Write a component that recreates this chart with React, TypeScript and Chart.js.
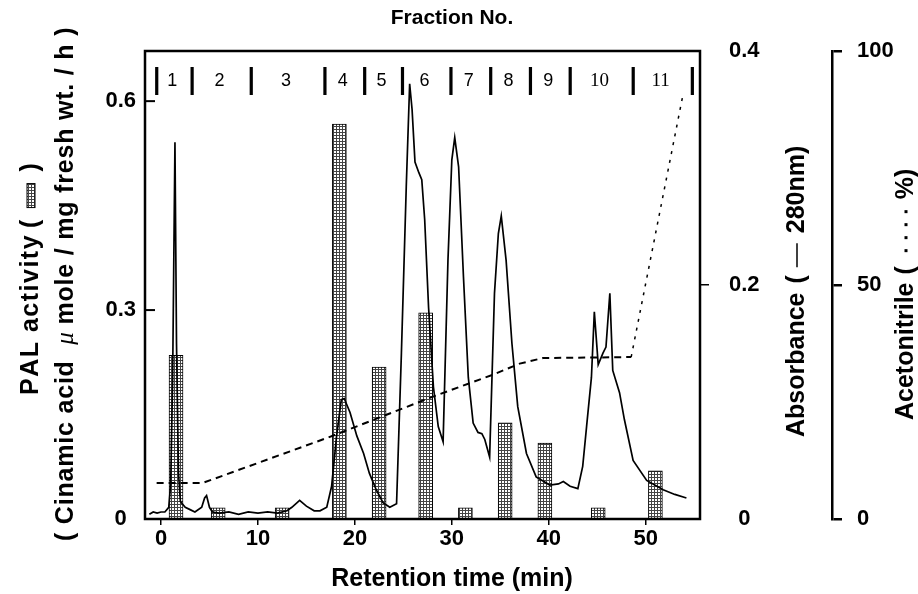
import React, { useEffect, useRef } from "react";
import { Chart, registerables } from "chart.js";

Chart.register(...registerables);

// ---------- data ----------
const timeTicks = [0, 10, 20, 30, 40, 50];
const palTicks = [0, 0.3, 0.6];
const absTicks = [0, 0.2, 0.4];
const acnTicks = [0, 50, 100];

const fractionLabels = ["1", "2", "3", "4", "5", "6", "7", "8", "9", "10", "11"];
const fractionBounds = [-0.45, 3.2, 9.3, 16.9, 21.0, 24.9, 29.9, 34.0, 38.1, 42.2, 48.7, 54.8];

// PAL activity bars (retention time, activity)
const palTimes = [1.55, 5.9, 12.5, 18.4, 22.5, 27.3, 31.4, 35.5, 39.6, 45.1, 51.0];
const palValues = [0.235, 0.016, 0.016, 0.567, 0.218, 0.296, 0.016, 0.138, 0.109, 0.016, 0.069];

// Absorbance at 280 nm (solid trace)
const absTimes = [
  -1.2, -0.8, -0.4, 0.0, 0.4, 0.8, 1.0, 1.2, 1.44, 1.6, 1.8, 2.0, 2.5, 3.0, 3.5, 4.2, 4.5, 4.7, 5.0, 5.3,
  6.0, 7.0, 8.0, 9.0, 10.0, 11.0, 12.0, 13.0, 13.5, 14.3, 15.0, 15.8, 16.4, 17.1, 17.6, 18.1, 18.6, 18.9,
  19.5, 20.2, 20.9, 21.5, 22.2, 22.9, 23.6, 24.3, 24.8, 25.3, 25.65, 25.9, 26.2, 26.6, 26.9, 27.2, 27.6,
  28.1, 28.6, 29.1, 29.6, 30.0, 30.3, 30.7, 31.2, 31.7, 32.2, 32.7, 33.1, 33.4, 33.9, 34.4, 34.8, 35.1,
  35.6, 36.2, 36.8, 37.7, 38.7, 40.1, 41.0, 41.5, 42.2, 43.0, 43.5, 43.9, 44.4, 44.7, 45.1, 45.6, 45.9,
  46.3, 46.6, 47.3, 47.8, 48.7, 50.1, 51.8, 53.0, 54.2,
];
const absValues = [
  0.004, 0.006, 0.005, 0.006, 0.006, 0.01, 0.03, 0.12, 0.322, 0.15, 0.04, 0.015, 0.01, 0.008, 0.006, 0.01, 0.018, 0.02, 0.01, 0.006,
  0.005, 0.006, 0.004, 0.006, 0.005, 0.006, 0.005, 0.007, 0.01, 0.016, 0.011, 0.007, 0.007, 0.01, 0.028, 0.07, 0.102, 0.103,
  0.091, 0.071, 0.056, 0.039, 0.025, 0.014, 0.01, 0.013, 0.142, 0.284, 0.372, 0.35, 0.305, 0.296, 0.29, 0.256, 0.181,
  0.113, 0.079, 0.066, 0.221, 0.307, 0.326, 0.301, 0.207, 0.121, 0.082, 0.074, 0.073, 0.068, 0.053, 0.193, 0.244, 0.259,
  0.221, 0.15, 0.096, 0.056, 0.036, 0.029, 0.03, 0.032, 0.028, 0.026, 0.045, 0.079, 0.121, 0.177, 0.132, 0.142, 0.147,
  0.193, 0.127, 0.108, 0.085, 0.05, 0.033, 0.025, 0.021, 0.018,
];

// Acetonitrile gradient (dashed)
const acnTimes = [-0.45, 4.3, 17.1, 28.0, 34.2, 37.0, 39.4, 48.5, 53.8];
const acnValues = [7.7, 7.7, 17.3, 26.1, 30.8, 33.2, 34.4, 34.6, 90.2];

// ---------- styling ----------
const SANS = "'Liberation Sans', Arial, Helvetica, sans-serif";
const SERIF = "'Liberation Serif', 'Times New Roman', serif";

function makePattern(): CanvasPattern | string {
  const c = document.createElement("canvas");
  c.width = 3;
  c.height = 3;
  const g = c.getContext("2d");
  if (!g) return "#888";
  g.fillStyle = "#fff";
  g.fillRect(0, 0, 3, 3);
  g.fillStyle = "#444";
  g.fillRect(0, 0, 3, 1);
  g.fillRect(0, 0, 1, 3);
  return g.createPattern(c, "repeat") || "#888";
}

type Part = {
  text?: string;
  font?: string;
  spacing?: number;
  gap?: number;
  box?: number;
  line?: number;
  dots?: number;
  span?: number;
};

// Draws text rotated by -90deg, reading bottom-to-top, beginning at (cx, startY).
function rotatedParts(ctx: CanvasRenderingContext2D, cx: number, startY: number, parts: Part[], pattern: any) {
  ctx.save();
  ctx.translate(cx, startY);
  ctx.rotate(-Math.PI / 2);
  ctx.textBaseline = "middle";
  ctx.textAlign = "left";
  ctx.fillStyle = "#000";
  ctx.strokeStyle = "#000";
  let x = 0;
  parts.forEach((p) => {
    if (p.text !== undefined) {
      ctx.font = p.font || `bold 25px ${SANS}`;
      const sp = p.spacing || 0;
      if (!sp) {
        ctx.fillText(p.text, x, 0);
        x += ctx.measureText(p.text).width;
      } else {
        for (const ch of p.text) {
          ctx.fillText(ch, x, 0);
          x += ctx.measureText(ch).width + sp;
        }
      }
    } else if (p.gap) {
      x += p.gap;
    } else if (p.box) {
      ctx.fillStyle = pattern;
      ctx.fillRect(x, -4, p.box, 8);
      ctx.lineWidth = 1;
      ctx.strokeRect(x, -4, p.box, 8);
      ctx.fillStyle = "#000";
      x += p.box;
    } else if (p.line) {
      ctx.lineWidth = 1.5;
      ctx.beginPath();
      ctx.moveTo(x, 0);
      ctx.lineTo(x + p.line, 0);
      ctx.stroke();
      x += p.line;
    } else if (p.dots) {
      const span = p.span || 40;
      const step = span / p.dots;
      for (let i = 0; i < p.dots; i++) {
        ctx.fillRect(x + i * step + step / 2 - 1.5, -1.5, 3, 3);
      }
      x += span;
    }
  });
  ctx.restore();
}

export default function App() {
  const ref = useRef<HTMLCanvasElement | null>(null);

  useEffect(() => {
    const canvas = ref.current;
    if (!canvas) return;
    const pattern = makePattern();

    const decor = {
      id: "decor",
      afterDatasetsDraw(chart: any) {
        const { ctx, chartArea: a, scales } = chart;
        ctx.save();
        ctx.strokeStyle = "#000";
        ctx.lineWidth = 2.5;
        ctx.strokeRect(a.left, a.top, a.right - a.left, a.bottom - a.top);
        // inward ticks on PAL axis
        ctx.lineWidth = 2;
        palTicks.forEach((v) => {
          if (v === 0) return;
          const y = scales.yPal.getPixelForValue(v);
          ctx.beginPath();
          ctx.moveTo(a.left, y);
          ctx.lineTo(a.left + 10, y);
          ctx.stroke();
        });
        // fraction markers
        const xs = scales.x;
        ctx.fillStyle = "#000";
        fractionBounds.forEach((b) => {
          const x = xs.getPixelForValue(b);
          ctx.fillRect(x - 1.5, a.top + 16, 3.2, 28);
        });
        ctx.textAlign = "center";
        ctx.textBaseline = "middle";
        fractionLabels.forEach((lab, i) => {
          const x =
            (xs.getPixelForValue(fractionBounds[i]) + xs.getPixelForValue(fractionBounds[i + 1])) / 2 - 2;
          ctx.font = i >= 9 ? `19px ${SERIF}` : `18px ${SANS}`;
          ctx.fillText(lab, x, a.top + 30);
        });
        ctx.restore();
      },
      afterDraw(chart: any) {
        const { ctx } = chart;
        ctx.save();
        ctx.fillStyle = "#000";
        ctx.textAlign = "center";
        ctx.textBaseline = "middle";
        ctx.font = `bold 21px ${SANS}`;
        ctx.fillText("Fraction No.", 452, 18);
        ctx.font = `bold 25px ${SANS}`;
        ctx.fillText("Retention time (min)", 452, 579);
        ctx.restore();

        rotatedParts(
          ctx,
          31,
          395,
          [
            { text: "PAL activity", spacing: 1.5 },
            { gap: 6 },
            { text: "(" },
            { gap: 12 },
            { box: 24 },
            { gap: 12 },
            { text: ")" },
          ],
          pattern
        );
        rotatedParts(
          ctx,
          66,
          541,
          [
            { text: "( Cinamic acid  ", spacing: 0.8 },
            { text: "\u03bc", font: `italic 25px ${SERIF}` },
            { text: " mole / mg fresh wt. / h )", spacing: 0.8 },
          ],
          pattern
        );
        rotatedParts(
          ctx,
          797,
          437,
          [
            { text: "Absorbance" },
            { gap: 9 },
            { text: "(" },
            { gap: 8 },
            { line: 24 },
            { gap: 10 },
            { text: "280nm)" },
          ],
          pattern
        );
        rotatedParts(
          ctx,
          906,
          420,
          [
            { text: "Acetonitrile" },
            { gap: 8 },
            { text: "(" },
            { gap: 9 },
            { dots: 4, span: 52 },
            { gap: 6 },
            { text: "%)" },
          ],
          pattern
        );
      },
    };

    const chart = new Chart(canvas, {
      type: "line",
      data: {
        datasets: [
          {
            type: "line",
            label: "Absorbance",
            data: absTimes.map((t, i) => ({ x: t, y: absValues[i] })),
            yAxisID: "yAbs",
            borderColor: "#000",
            borderWidth: 1.7,
            pointRadius: 0,
            tension: 0,
            order: 1,
          },
          {
            type: "line",
            label: "Acetonitrile",
            data: acnTimes.map((t, i) => ({ x: t, y: acnValues[i] })),
            yAxisID: "yAcn",
            borderColor: "#000",
            borderWidth: 2,
            borderDash: [7, 5],
            pointRadius: 0,
            tension: 0,
            order: 2,
            segment: {
              borderDash: (c: any) => (c.p1DataIndex === acnValues.length - 1 ? [3, 6] : undefined),
              borderWidth: (c: any) => (c.p1DataIndex === acnValues.length - 1 ? 1.5 : undefined),
            },
          } as any,
          {
            type: "bar",
            label: "PAL activity",
            data: palTimes.map((t, i) => ({ x: t, y: palValues[i] })),
            yAxisID: "yPal",
            backgroundColor: pattern as any,
            borderColor: "#000",
            borderWidth: 1,
            barThickness: 14,
            grouped: false,
            order: 3,
          } as any,
        ],
      },
      options: {
        animation: false,
        responsive: false,
        maintainAspectRatio: false,
        devicePixelRatio: 1,
        layout: { padding: { top: 51, left: 0, right: 0, bottom: 0 } },
        plugins: { legend: { display: false }, tooltip: { enabled: false }, title: { display: false } },
        scales: {
          x: {
            type: "linear",
            min: -1.65,
            max: 55.6,
            offset: false,
            afterFit: (s: any) => {
              s.height = 75;
            },
            afterBuildTicks: (s: any) => {
              s.ticks = timeTicks.map((v) => ({ value: v }));
            },
            grid: { drawOnChartArea: false, drawTicks: true, tickLength: 6, color: "#000", lineWidth: 1.5, offset: false },
            border: { display: false },
            ticks: {
              color: "#000",
              font: { family: SANS, size: 22, weight: "bold" },
              padding: 1,
              maxRotation: 0,
              autoSkip: false,
            },
          },
          yPal: {
            type: "linear",
            position: "left",
            min: 0,
            max: 0.672,
            afterFit: (s: any) => {
              s.width = 145;
            },
            afterBuildTicks: (s: any) => {
              s.ticks = palTicks.map((v) => ({ value: v }));
            },
            grid: { display: false, drawTicks: false },
            border: { display: false },
            ticks: {
              color: "#000",
              crossAlign: "center",
              padding: 9,
              font: { family: SANS, size: 22, weight: "bold" },
              callback: (v: any) => String(v),
            },
          },
          yAbs: {
            type: "linear",
            position: "right",
            weight: 0,
            min: 0,
            max: 0.4,
            afterFit: (s: any) => {
              s.width = 132;
            },
            afterBuildTicks: (s: any) => {
              s.ticks = absTicks.map((v) => ({ value: v }));
            },
            grid: {
              drawOnChartArea: false,
              drawTicks: true,
              tickLength: 9,
              lineWidth: 1.5,
              color: (c: any) => (c.tick && c.tick.value === 0.2 ? "#000" : "rgba(0,0,0,0)"),
            },
            border: { display: false },
            ticks: {
              color: "#000",
              crossAlign: "center",
              padding: 20,
              font: { family: SANS, size: 22, weight: "bold" },
              callback: (v: any) => String(v),
            },
          },
          yAcn: {
            type: "linear",
            position: "right",
            weight: 1,
            min: 0,
            max: 100,
            afterFit: (s: any) => {
              s.width = 86;
            },
            afterBuildTicks: (s: any) => {
              s.ticks = acnTicks.map((v) => ({ value: v }));
            },
            grid: { drawOnChartArea: false, drawTicks: true, tickLength: 10, lineWidth: 2.5, color: "#000" },
            border: { display: true, color: "#000", width: 2.5 },
            ticks: {
              color: "#000",
              padding: 15,
              font: { family: SANS, size: 22, weight: "bold" },
              callback: (v: any) => String(v),
            },
          },
        },
      } as any,
      plugins: [decor],
    });

    return () => chart.destroy();
  }, []);

  return (
    <div style={{ position: "fixed", left: 0, top: 0, width: 918, height: 594, background: "#fff" }}>
      <canvas ref={ref} width={918} height={594} style={{ display: "block", width: 918, height: 594 }} />
    </div>
  );
}
